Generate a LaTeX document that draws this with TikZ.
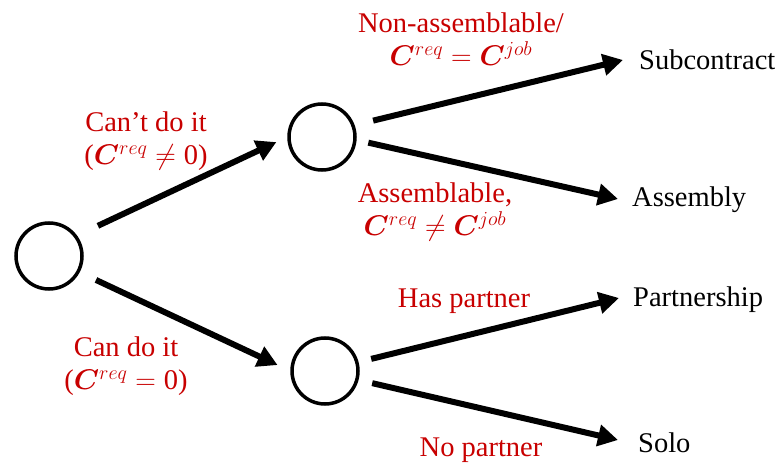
\RequirePackage{fix-cm}
\documentclass[tikz,border=0pt]{standalone}
\usepackage{amsmath}
\usepackage{bm}
\usepackage{fontspec}
\setmainfont{Liberation Serif}
\usetikzlibrary{arrows.meta}
\definecolor{lblred}{RGB}{200,0,0}
\begin{document}
\begin{tikzpicture}[x=1pt,y=-1pt,
  every node/.style={font=\fontsize{28.5}{33}\selectfont},
  state/.style={circle,draw=black,line width=3.5pt,fill=white,minimum size=66pt,inner sep=0pt},
  outcome/.style={anchor=base west,inner sep=0pt,text=black},
  lbl/.style={text=lblred,align=center,inner sep=0pt},
  arr/.style={line width=6pt,-{Triangle[length=20pt,width=21pt]}}]
\useasboundingbox (0,0) rectangle (777,465);
% decision nodes
\node[state] (c0) at (49,256) {};
\node[state] (c1) at (322,137) {};
\node[state] (c2) at (325,371) {};
% outcomes
\node[outcome] (sub) at (639,70) {Subcontract};
\node[outcome] (asm) at (632,207) {Assembly};
\node[outcome] (par) at (633,306) {Partnership};
\node[outcome] (solo) at (638,452) {Solo};
% arrows
\draw[arr,shorten <=23pt,shorten >=12pt] (c0.36) -- (c1.west);
\draw[arr,shorten <=18pt,shorten >=14pt] (c0.-28) -- (c2.west);
\draw[arr,shorten <=19pt] (c1.20) -- ([xshift=-16pt,yshift=10pt]sub.base west);
\draw[arr,shorten <=12pt] (c1.-5) -- ([xshift=-14pt,yshift=8pt]asm.base west);
\draw[arr,shorten <=13pt] (c2.15) -- ([xshift=-14pt,yshift=8pt]par.base west);
\draw[arr,shorten <=14pt] (c2.-15) -- ([xshift=-20pt,yshift=12pt]solo.base west);
% labels
\node[lbl] (l1) at (146,141) {Can’t do it\\($\bm{C}^{req} \neq \text{0}$)};
\node[lbl] (l2) at (126,366) {Can do it\\($\bm{C}^{req} = \text{0}$)};
\node[lbl] (l3) at (461,39) {Non-assemblable/\\$\bm{C}^{req} = \bm{C}^{job}$};
\node[lbl] (l4) at (435,212) {Assemblable,\\$\bm{C}^{req} \neq \bm{C}^{job}$};
\node[lbl] (l5) at (464,301) {Has partner};
\node[lbl] (l6) at (481,450) {No partner};
\end{tikzpicture}
\end{document}
